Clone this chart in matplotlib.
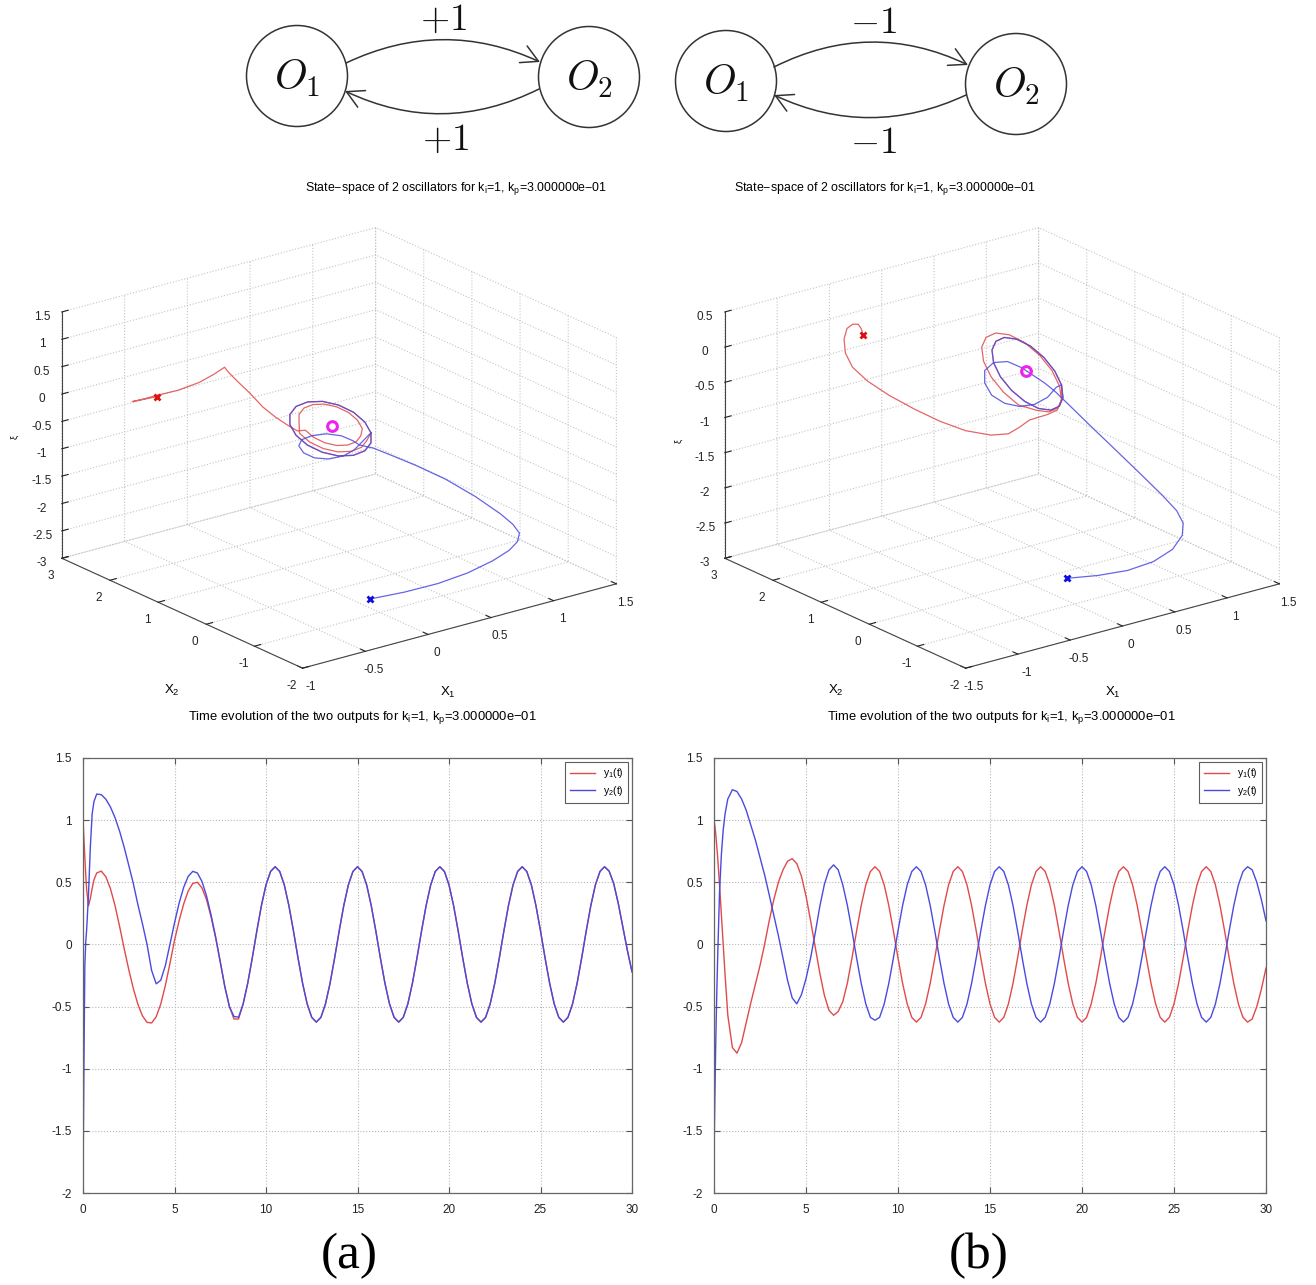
#!/usr/bin/env python3
"""Two coupled oscillators: coupling graphs, state-space paths and output traces."""

import matplotlib

matplotlib.use("Agg")
import matplotlib.pyplot as plt
import numpy as np
from matplotlib.patches import Circle, FancyArrowPatch
from matplotlib.ticker import FuncFormatter

plt.rcParams["font.family"] = ["Liberation Sans", "DejaVu Sans"]
plt.rcParams["axes.unicode_minus"] = False
plt.rcParams["grid.linestyle"] = ":"
plt.rcParams["grid.color"] = "#b8b8b8"
plt.rcParams["grid.linewidth"] = 0.8

W, H = 1316, 1285
RED = "#e04a4a"
BLUE = "#4a4ae0"
INK = "#333333"

# ---------------------------------------------------------------- time traces
T_EARLY = [0.0, 0.05, 0.1, 0.15, 0.2, 0.3, 0.4, 0.5, 0.6, 0.75]
T_STEP = 0.25  # samples from t = 1 onwards

Y1_A = [
    1.00, 0.85, 0.70, 0.56, 0.44, 0.31, 0.37, 0.45, 0.52, 0.575,
    0.59, 0.544, 0.449, 0.312, 0.145, -0.034, -0.202, -0.355, -0.482, -0.575,
    -0.627, -0.632, -0.582, -0.479, -0.331, -0.154, 0.032, 0.189, 0.325, 0.43,
    0.491, 0.50, 0.455, 0.36, 0.22, 0.05, -0.14, -0.34, -0.50, -0.60,
    -0.60, -0.479, -0.313, -0.109, 0.109, 0.313, 0.479, 0.587,
    0.625, 0.587, 0.479, 0.313, 0.109, -0.109, -0.313, -0.479, -0.587,
    -0.625, -0.587, -0.479, -0.313, -0.109, 0.109, 0.313, 0.479, 0.587,
    0.625, 0.587, 0.479, 0.313, 0.109, -0.109, -0.313, -0.479, -0.587,
    -0.625, -0.587, -0.479, -0.313, -0.109, 0.109, 0.313, 0.479, 0.587,
    0.625, 0.587, 0.479, 0.313, 0.109, -0.109, -0.313, -0.479, -0.587,
    -0.625, -0.587, -0.479, -0.313, -0.109, 0.109, 0.313, 0.479, 0.587,
    0.625, 0.587, 0.479, 0.313, 0.109, -0.109, -0.313, -0.479, -0.587,
    -0.625, -0.587, -0.479, -0.313, -0.109, 0.109, 0.313, 0.479, 0.587,
    0.625, 0.59, 0.49, 0.33, 0.14, -0.05, -0.22,
]
Y2_A = [
    -1.95, -1.00, -0.17, 0.02, 0.12, 0.40, 0.78, 1.05, 1.15, 1.21,
    1.205, 1.168, 1.106, 1.02, 0.911, 0.782, 0.637, 0.49, 0.32, 0.165,
    0.0, -0.21, -0.317, -0.288, -0.17, 0.0, 0.173, 0.331, 0.459, 0.548,
    0.588, 0.575, 0.507, 0.39, 0.236, 0.06, -0.14, -0.34, -0.50, -0.58,
    -0.585, -0.479, -0.313, -0.109, 0.109, 0.313, 0.479, 0.587,
    0.625, 0.587, 0.479, 0.313, 0.109, -0.109, -0.313, -0.479, -0.587,
    -0.625, -0.587, -0.479, -0.313, -0.109, 0.109, 0.313, 0.479, 0.587,
    0.625, 0.587, 0.479, 0.313, 0.109, -0.109, -0.313, -0.479, -0.587,
    -0.625, -0.587, -0.479, -0.313, -0.109, 0.109, 0.313, 0.479, 0.587,
    0.625, 0.587, 0.479, 0.313, 0.109, -0.109, -0.313, -0.479, -0.587,
    -0.625, -0.587, -0.479, -0.313, -0.109, 0.109, 0.313, 0.479, 0.587,
    0.625, 0.587, 0.479, 0.313, 0.109, -0.109, -0.313, -0.479, -0.587,
    -0.625, -0.587, -0.479, -0.313, -0.109, 0.109, 0.313, 0.479, 0.587,
    0.625, 0.59, 0.49, 0.33, 0.14, -0.05, -0.22,
]
Y1_B = [
    1.00, 0.95, 0.88, 0.79, 0.70, 0.48, 0.24, 0.00, -0.24, -0.57,
    -0.83, -0.875, -0.79, -0.63, -0.47, -0.32, -0.17, 0.0, 0.19, 0.36,
    0.50, 0.60, 0.67, 0.69, 0.65, 0.55, 0.39, 0.19, -0.02, -0.23,
    -0.41, -0.53,
    -0.57, -0.54, -0.46, -0.31, -0.109, 0.109, 0.313, 0.479, 0.587,
    0.625, 0.587, 0.479, 0.313, 0.109, -0.109, -0.313, -0.479, -0.587,
    -0.625, -0.587, -0.479, -0.313, -0.109, 0.109, 0.313, 0.479, 0.587,
    0.625, 0.587, 0.479, 0.313, 0.109, -0.109, -0.313, -0.479, -0.587,
    -0.625, -0.587, -0.479, -0.313, -0.109, 0.109, 0.313, 0.479, 0.587,
    0.625, 0.587, 0.479, 0.313, 0.109, -0.109, -0.313, -0.479, -0.587,
    -0.625, -0.587, -0.479, -0.313, -0.109, 0.109, 0.313, 0.479, 0.587,
    0.625, 0.587, 0.479, 0.313, 0.109, -0.109, -0.313, -0.479, -0.587,
    -0.625, -0.587, -0.479, -0.313, -0.109, 0.109, 0.313, 0.479, 0.587,
    0.625, 0.587, 0.479, 0.313, 0.109, -0.109, -0.313, -0.479, -0.587,
    -0.625, -0.60, -0.50, -0.36, -0.19,
]
Y2_B = [
    -1.72, -1.20, -0.75, -0.40, -0.10, 0.42, 0.72, 0.92, 1.05, 1.17,
    1.245, 1.23, 1.17, 1.08, 0.96, 0.84, 0.70, 0.56, 0.40, 0.235,
    0.07, -0.11, -0.29, -0.43, -0.478, -0.405, -0.276, -0.109, 0.091, 0.306,
    0.484, 0.60,
    0.64, 0.60, 0.479, 0.313, 0.109, -0.109, -0.313, -0.479, -0.587,
    -0.61, -0.587, -0.479, -0.313, -0.109, 0.109, 0.313, 0.479, 0.587,
    0.625, 0.587, 0.479, 0.313, 0.109, -0.109, -0.313, -0.479, -0.587,
    -0.625, -0.587, -0.479, -0.313, -0.109, 0.109, 0.313, 0.479, 0.587,
    0.625, 0.587, 0.479, 0.313, 0.109, -0.109, -0.313, -0.479, -0.587,
    -0.625, -0.587, -0.479, -0.313, -0.109, 0.109, 0.313, 0.479, 0.587,
    0.625, 0.587, 0.479, 0.313, 0.109, -0.109, -0.313, -0.479, -0.587,
    -0.625, -0.587, -0.479, -0.313, -0.109, 0.109, 0.313, 0.479, 0.587,
    0.625, 0.587, 0.479, 0.313, 0.109, -0.109, -0.313, -0.479, -0.587,
    -0.625, -0.587, -0.479, -0.313, -0.109, 0.109, 0.313, 0.479, 0.587,
    0.625, 0.60, 0.50, 0.36, 0.19,
]

T_TICKS = [0, 5, 10, 15, 20, 25, 30]
Y_TICKS = [-2, -1.5, -1, -0.5, 0, 0.5, 1, 1.5]

# ---------------------------------------------------------- state-space paths
# rows are (x1, x2, xi)
RED_A_PATH = [
    (-0.627, 2.0, 0.124), (-0.746, 2.2, 0.026), (-0.671, 2.15, 0.05),
    (-0.627, 2.0, 0.148), (-0.516, 1.85, 0.232), (-0.405, 1.7, 0.367),
    (-0.326, 1.6, 0.507), (-0.279, 1.5, 0.648), (-0.265, 1.45, 0.563),
    (-0.235, 1.35, 0.426), (-0.191, 1.2, 0.238), (-0.165, 1.0, 0.05),
    (-0.158, 0.75, -0.042), (-0.170, 0.45, -0.07), (-0.177, 0.25, -0.077),
]
RED_A_LOOP = [
    (-0.211, 0, 0.058), (-0.144, 0, -0.115), (-0.056, 0, -0.267),
    (0.038, 0, -0.375), (0.127, 0, -0.421), (0.195, 0, -0.402),
    (0.231, 0, -0.317), (0.243, 0, -0.193), (0.205, 0, -0.016),
    (0.135, 0, 0.166), (0.042, 0, 0.326), (-0.058, 0, 0.44),
    (-0.151, 0, 0.489), (-0.222, 0, 0.469), (-0.261, 0, 0.378),
    (-0.261, 0, 0.234), (-0.257, 0, 0.03), (-0.176, 0, -0.181),
    (-0.068, 0, -0.365), (0.047, 0, -0.497), (0.154, 0, -0.553),
    (0.237, 0, -0.530), (0.281, 0, -0.426),
]
BLUE_A_PATH = [
    (-0.268, -1.5, -2.387), (0.006, -1.5, -2.43), (0.291, -1.45, -2.469),
    (0.543, -1.4, -2.454), (0.762, -1.35, -2.387), (0.913, -1.3, -2.31),
    (0.999, -1.25, -2.223), (1.035, -1.2, -2.109), (1.002, -1.15, -1.948),
    (0.922, -1.1, -1.727), (0.778, -0.95, -1.38), (0.618, -0.75, -1.046),
    (0.459, -0.55, -0.777), (0.334, -0.35, -0.59), (0.256, -0.2, -0.478),
    (0.199, -0.05, -0.443),
]
BLUE_A_LOOP = [
    (0.170, 0, -0.371), (0.076, 0, -0.221), (-0.043, 0, -0.111),
    (-0.161, 0, -0.074), (-0.240, 0, -0.098), (-0.263, 0, -0.196),
    (-0.224, 0, -0.349), (-0.137, 0, -0.494), (-0.027, 0, -0.581),
    (0.091, 0, -0.6), (0.178, 0, -0.542), (0.241, 0, -0.434),
]
CYCLE_A = [
    (0.312, 0, -0.312), (0.263, 0, -0.085), (0.173, 0, 0.149),
    (0.054, 0, 0.354), (-0.074, 0, 0.5), (-0.193, 0, 0.563),
    (-0.285, 0, 0.537), (-0.334, 0, 0.421), (-0.334, 0, 0.236),
    (-0.285, 0, 0.011), (-0.195, 0, -0.223), (-0.076, 0, -0.428),
    (0.052, 0, -0.574), (0.171, 0, -0.637), (0.263, 0, -0.611),
    (0.312, 0, -0.496), (0.312, 0, -0.312),
]

RED_B_PATH = [
    (-0.637, 2.0, 0.145), (-0.657, 2.0, 0.239), (-0.695, 1.98, 0.323),
    (-0.762, 1.95, 0.358), (-0.829, 1.92, 0.335), (-0.876, 1.88, 0.216),
    (-0.886, 1.83, 0.035), (-0.850, 1.76, -0.158), (-0.753, 1.66, -0.362),
    (-0.613, 1.52, -0.575), (-0.447, 1.35, -0.786), (-0.295, 1.15, -0.957),
    (-0.141, 0.95, -1.09), (0.011, 0.75, -1.151), (0.105, 0.6, -1.123),
    (0.138, 0.45, -1.001), (0.148, 0.25, -0.834),
]
RED_B_LOOP = [
    (0.204, 0, -0.701), (0.296, 0, -0.675), (0.337, 0, -0.552),
    (0.320, 0, -0.348), (0.247, 0, -0.094), (0.129, 0, 0.170),
    (-0.014, 0, 0.407), (-0.161, 0, 0.577), (-0.292, 0, 0.655),
    (-0.384, 0, 0.629), (-0.425, 0, 0.507), (-0.408, 0, 0.301),
    (-0.335, 0, 0.049), (-0.217, 0, -0.216), (-0.074, 0, -0.454),
    (0.096, 0, -0.597), (0.218, 0, -0.67), (0.304, 0, -0.646),
    (0.342, 0, -0.532),
]
BLUE_B_PATH = [
    (-0.299, -1.5, -2.359), (-0.006, -1.5, -2.436), (0.303, -1.45, -2.503),
    (0.570, -1.4, -2.501), (0.777, -1.35, -2.425), (0.894, -1.3, -2.287),
    (0.925, -1.25, -2.14), (0.887, -1.2, -1.967), (0.791, -1.1, -1.733),
    (0.655, -0.95, -1.428), (0.503, -0.75, -1.08), (0.351, -0.55, -0.735),
    (0.238, -0.35, -0.454), (0.162, -0.25, -0.28), (0.107, -0.15, -0.167),
    (0.051, -0.05, -0.075),
]
BLUE_B_LOOP = [
    (-0.044, 0, 0.064), (-0.178, 0, 0.204), (-0.311, 0, 0.243),
    (-0.397, 0, 0.162), (-0.397, 0, -0.012), (-0.330, 0, -0.213),
    (-0.206, 0, -0.378), (-0.063, 0, -0.48), (0.080, 0, -0.507),
    (0.204, 0, -0.457), (0.290, 0, -0.345),
]
CYCLE_B = [
    (0.338, 0, -0.336), (0.273, 0, -0.11), (0.168, 0, 0.126),
    (0.040, 0, 0.338), (-0.092, 0, 0.488), (-0.209, 0, 0.559),
    (-0.290, 0, 0.536), (-0.327, 0, 0.428), (-0.312, 0, 0.243),
    (-0.247, 0, 0.017), (-0.141, 0, -0.219), (-0.013, 0, -0.429),
    (0.118, 0, -0.581), (0.235, 0, -0.651), (0.317, 0, -0.629),
    (0.352, 0, -0.519), (0.338, 0, -0.336),
]
EQUILIBRIUM = (0.0, 0.0, 0.0)

X2_TICKS = [-2, -1, 0, 1, 2, 3]
X1_TICKS_A = [-1, -0.5, 0, 0.5, 1, 1.5]
XI_TICKS_A = [-3, -2.5, -2, -1.5, -1, -0.5, 0, 0.5, 1, 1.5]
X1_TICKS_B = [-1.5, -1, -0.5, 0, 0.5, 1, 1.5]
XI_TICKS_B = [-3, -2.5, -2, -1.5, -1, -0.5, 0, 0.5]

TITLE_3D = "State\u2212space of 2 oscillators for k$_\\mathregular{i}$=1, k$_\\mathregular{p}$=3.000000e\u221201"
TITLE_T = "Time evolution of the two outputs for k$_\\mathregular{i}$=1, k$_\\mathregular{p}$=3.000000e\u221201"


def px_rect(left, top, width, height):
    return [left / W, 1 - (top + height) / H, width / W, height / H]


def fig_text(fig, x, y, s, **kw):
    fig.text(x / W, 1 - y / H, s, ha="center", va="center", **kw)


def draw_graphs(fig):
    ax = fig.add_axes([0, 1 - 170 / H, 1, 170 / H])
    ax.set_xlim(0, W)
    ax.set_ylim(170, 0)
    ax.axis("off")
    nodes = [((297, 76), "$O_1$"), ((589, 77), "$O_2$"), ((726, 81), "$O_1$"), ((1016, 84), "$O_2$")]
    for (cx, cy), label in nodes:
        ax.add_patch(Circle((cx, cy), 50.5, facecolor="white", edgecolor=INK, lw=1.1))
        ax.text(cx, cy + 2, label, ha="center", va="center", fontsize=30, math_fontfamily="cm", color="#111111")
    arcs = [
        ((346, 63), (540, 62), -0.234),
        ((539, 89), (345, 91), -0.243),
        ((774, 67), (968, 65), -0.245),
        ((966, 95), (774, 95), -0.234),
    ]
    for start, end, rad in arcs:
        ax.add_patch(FancyArrowPatch(start, end, connectionstyle=f"arc3,rad={rad}",
                                     arrowstyle="->,head_length=0.55,head_width=0.3",
                                     mutation_scale=22, lw=1.1, color=INK, shrinkA=0, shrinkB=0))
    for x, y, s in [(443, 20, "$+1$"), (445, 140, "$+1$"), (873, 23, "$-1$"), (873, 143, "$-1$")]:
        ax.text(x, y, s, ha="center", va="center", fontsize=27, math_fontfamily="cm", color="#111111")


def setup_3d(ax, xlim, zlim, xticks, zticks):
    ax.set_proj_type("ortho")
    ax.view_init(elev=20.5, azim=-127.5)
    ax.set_box_aspect((1, 1, 0.665))
    ax.set_xlim(*xlim)
    ax.set_ylim(-2, 3)
    ax.set_zlim(*zlim)
    ax.set_xticks(xticks)
    ax.set_yticks(X2_TICKS)
    ax.set_zticks(zticks)
    fmt = FuncFormatter(lambda v, _: f"{v:g}")
    for axis in (ax.xaxis, ax.yaxis, ax.zaxis):
        axis.set_major_formatter(fmt)
        axis.set_pane_color((1, 1, 1, 0))
        axis.line.set_color("#444444")
        axis.line.set_linewidth(0.8)
        axis._axinfo["grid"].update(color="#c4c4c4", linestyle=":", linewidth=0.8)
        axis._axinfo["tick"]["inward_factor"] = 0.0
        axis._axinfo["tick"]["outward_factor"] = 0.25
    ax.tick_params(labelsize=8.5, pad=0, colors="#222222")
    ax.computed_zorder = False


def plot_path(ax, pts, color):
    arr = np.asarray(pts, dtype=float)
    ax.plot(arr[:, 0], arr[:, 1], arr[:, 2], color=color, lw=0.9, alpha=0.85)


def draw_state_space(fig, rect, red_parts, blue_parts, xlim, zlim, xticks, zticks):
    ax = fig.add_axes(rect, projection="3d")
    setup_3d(ax, xlim, zlim, xticks, zticks)
    plot_path(ax, [p for part in red_parts for p in part], RED)
    plot_path(ax, [p for part in blue_parts for p in part], BLUE)
    r0, b0 = red_parts[0][0], blue_parts[0][0]
    ax.plot([r0[0]], [r0[1]], [r0[2]], "x", color="#dd1111", ms=5, mew=2)
    ax.plot([b0[0]], [b0[1]], [b0[2]], "x", color="#1111dd", ms=5, mew=2)
    ax.plot([EQUILIBRIUM[0]], [EQUILIBRIUM[1]], [EQUILIBRIUM[2]], "o", mfc="none",
            mec="#ee22ee", ms=7, mew=2.2)
    return ax


def draw_time(fig, rect, y1, y2):
    ax = fig.add_axes(rect)
    t = np.concatenate([T_EARLY, np.arange(1.0, 30.0 + 1e-9, T_STEP)])
    ax.plot(t, y1, color=RED, lw=1.0, label="y$_\\mathregular{1}$(t)")
    ax.plot(t, y2, color=BLUE, lw=1.0, label="y$_\\mathregular{2}$(t)")
    ax.set_xlim(0, 30)
    ax.set_ylim(-2, 1.5)
    ax.set_xticks(T_TICKS)
    ax.set_yticks(Y_TICKS)
    ax.xaxis.set_major_formatter(FuncFormatter(lambda v, _: f"{v:g}"))
    ax.yaxis.set_major_formatter(FuncFormatter(lambda v, _: f"{v:g}"))
    ax.tick_params(direction="in", top=True, right=True, labelsize=8.5, length=4,
                   color="#555555", labelcolor="#222222", pad=8)
    ax.grid(True)
    for s in ax.spines.values():
        s.set_color("#666666")
        s.set_linewidth(0.9)
    leg = ax.legend(loc="upper right", fontsize=7.5, fancybox=False, edgecolor="#333333",
                    handlelength=2.4, borderpad=0.45, labelspacing=0.35, borderaxespad=0.35)
    leg.get_frame().set_linewidth(0.8)
    return ax


def main():
    fig = plt.figure(figsize=(W / 100, H / 100), dpi=100)
    draw_graphs(fig)

    draw_state_space(fig, px_rect(31, 156, 600, 600),
                     [RED_A_PATH, RED_A_LOOP, CYCLE_A], [BLUE_A_PATH, BLUE_A_LOOP, CYCLE_A],
                     (-1, 1.5), (-3, 1.5), X1_TICKS_A, XI_TICKS_A)
    draw_state_space(fig, px_rect(694, 156, 600, 600),
                     [RED_B_PATH, RED_B_LOOP, CYCLE_B], [BLUE_B_PATH, BLUE_B_LOOP, CYCLE_B],
                     (-1.5, 1.5), (-3, 0.5), X1_TICKS_B, XI_TICKS_B)
    fig_text(fig, 456, 188, TITLE_3D, fontsize=8.9)
    fig_text(fig, 885, 188, TITLE_3D, fontsize=8.9)
    # axis names of the state-space boxes
    for x, y in [(172, 690), (836, 690)]:
        fig_text(fig, x, y, "X$_\\mathregular{2}$", fontsize=9.5)
    for x, y in [(448, 692), (1113, 692)]:
        fig_text(fig, x, y, "X$_\\mathregular{1}$", fontsize=9.5)
    for x, y in [(15, 437), (679, 441)]:
        fig_text(fig, x, y, "\u03be", fontsize=6.5, rotation=90)

    draw_time(fig, px_rect(83, 758, 549, 435), Y1_A, Y2_A)
    draw_time(fig, px_rect(714, 758, 552, 435), Y1_B, Y2_B)
    fig_text(fig, 362, 718, TITLE_T, fontsize=9.4)
    fig_text(fig, 1001, 718, TITLE_T, fontsize=9.4)

    for x, s in [(349, "(a)"), (979, "(b)")]:
        fig_text(fig, x, 1256, s, fontsize=37, family=["Liberation Serif", "DejaVu Serif"])

    fig.savefig("out.png", dpi=100, facecolor="white")
    plt.close(fig)


if __name__ == "__main__":
    main()
